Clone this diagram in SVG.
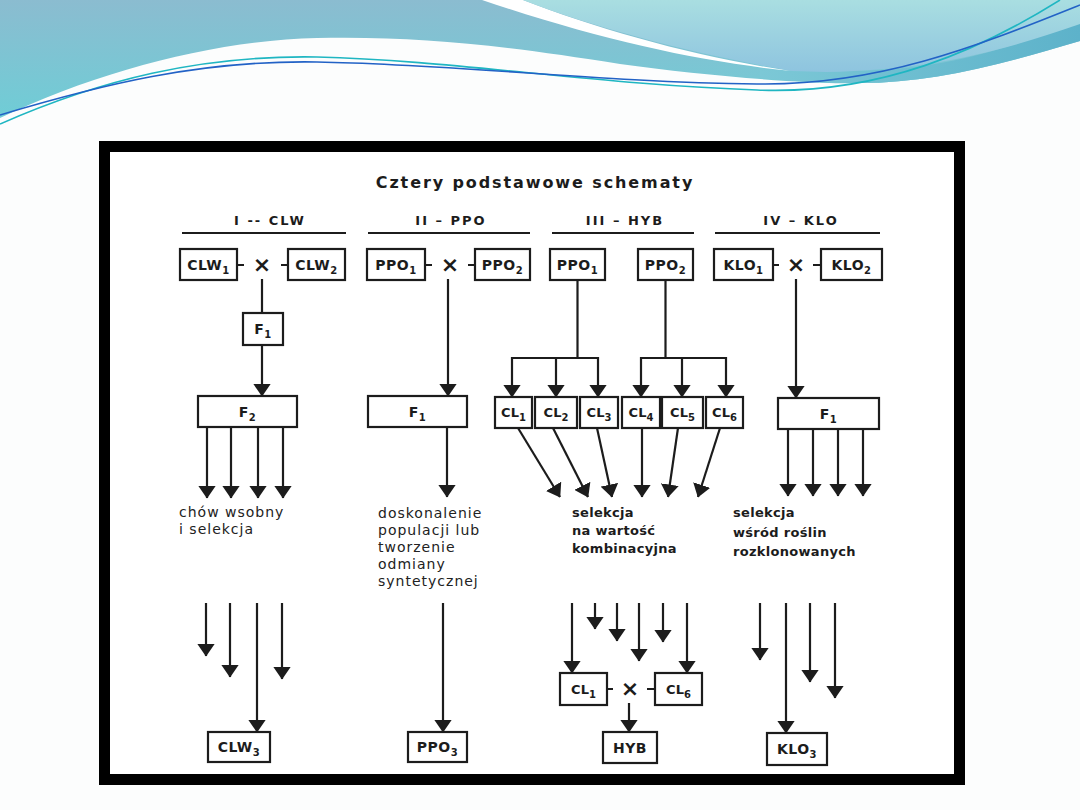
<svg xmlns="http://www.w3.org/2000/svg" width="1080" height="810" viewBox="0 0 1080 810">
<defs>
<linearGradient id="gBand" x1="0" y1="0" x2="0" y2="1">
<stop offset="0" stop-color="#8bbcd0"/>
<stop offset="1" stop-color="#6fcdd6"/>
</linearGradient>
<linearGradient id="gRight" x1="0" y1="0" x2="0" y2="1">
<stop offset="0" stop-color="#a9dee1"/>
<stop offset="1" stop-color="#8ec4df"/>
</linearGradient>
<linearGradient id="gBandR" x1="0" y1="0" x2="1" y2="0">
<stop offset="0" stop-color="#7cc8d6"/>
<stop offset="1" stop-color="#5db2ca"/>
</linearGradient>
<marker id="ah" viewBox="0 0 13 18" markerWidth="13" markerHeight="18" refX="12.5" refY="9" orient="auto" markerUnits="userSpaceOnUse">
<path d="M0,0 L13,9 L0,18 Z" fill="#1c1c1c"/>
</marker>
<style>
.box{fill:#fff;stroke:#1c1c1c;stroke-width:2.2}
.lbl{font-family:"DejaVu Sans",sans-serif;font-weight:bold;font-size:14px;fill:#1c1c1c;text-anchor:middle;letter-spacing:0.5px}
.cl{font-size:13px;letter-spacing:0}
.sub{font-size:10px}
.ln{stroke:#1c1c1c;stroke-width:2.2;fill:none}
.ar{marker-end:url(#ah)}
.x{font-family:"DejaVu Sans",sans-serif;font-weight:bold;font-size:22px;fill:#1c1c1c;text-anchor:middle}
.hd{font-family:"DejaVu Sans",sans-serif;font-weight:bold;font-size:13px;fill:#1c1c1c;text-anchor:middle;letter-spacing:2px}
.ttl{font-family:"DejaVu Sans",sans-serif;font-weight:bold;font-size:16px;fill:#1c1c1c;text-anchor:middle;letter-spacing:1.9px}
.dsc{font-family:"DejaVu Sans",sans-serif;font-size:14px;fill:#222;letter-spacing:1px}
.dscb{font-family:"DejaVu Sans",sans-serif;font-weight:bold;font-size:13px;fill:#1c1c1c;letter-spacing:0.3px}
</style>
</defs>

<!-- slide background -->
<rect x="0" y="0" width="1080" height="810" fill="#fcfdfd"/>
<g id="header-decoration">
<path d="M0,0 H1080 V41 C1000,65 930,83 860,83 C800,84 700,75 620,64 C500,45 420,36 317,38 C220,40 100,70 0,118 Z" fill="url(#gBand)"/>
<path d="M760,60 C850,80 950,75 1080,20 V41 C1000,65 930,83 860,83 C820,84 790,80 760,78 Z" fill="url(#gBandR)"/>
<path d="M482,0 L523,0 C600,30 700,58 792,71 C700,62 600,40 482,0 Z" fill="#ffffff"/>
<path d="M523,0 H1080 V24 C1000,52 930,70 826,72 L792,71 C700,55 600,30 523,0 Z" fill="url(#gRight)"/>
<path d="M0,124 C100,80 200,55 317,57 C450,60 600,85 757,90 C880,95 980,50 1060,0" fill="none" stroke="#1fb6c2" stroke-width="1.6"/>
<path d="M0,115 C100,85 200,60 317,62 C450,64 600,82 757,84 C880,86 980,45 1080,5" fill="none" stroke="#2262c6" stroke-width="1.6"/>
</g>

<!-- framed picture -->
<rect x="104.5" y="146.5" width="855" height="633" fill="#ffffff" stroke="#000" stroke-width="11"/>

<text class="ttl" x="535" y="188">Cztery podstawowe schematy</text>

<g id="headers">
<text class="hd" x="270" y="225">I -- CLW</text>
<line x1="182" y1="233" x2="346" y2="233" stroke="#1c1c1c" stroke-width="2"/>
<text class="hd" x="451" y="225">II – PPO</text>
<line x1="368" y1="233" x2="530" y2="233" stroke="#1c1c1c" stroke-width="2"/>
<text class="hd" x="625" y="225">III – HYB</text>
<line x1="552" y1="233" x2="694" y2="233" stroke="#1c1c1c" stroke-width="2"/>
<text class="hd" x="801" y="225">IV –  KLO</text>
<line x1="715" y1="233" x2="880" y2="233" stroke="#1c1c1c" stroke-width="2"/>
</g>

<!-- Column I: CLW -->
<g id="clw1"><rect class="box" x="180" y="249" width="57" height="31"/><text class="lbl" x="208.5" y="270">CLW<tspan class="sub" dy="4">1</tspan></text></g>
<g id="clw2"><rect class="box" x="288" y="249" width="57" height="31"/><text class="lbl" x="316.5" y="270">CLW<tspan class="sub" dy="4">2</tspan></text></g>
<g id="clw-cross"><text class="x" x="262" y="272">×</text></g>
<g id="clw-f1"><rect class="box" x="243" y="313" width="40" height="32"/><text class="lbl" x="263" y="334">F<tspan class="sub" dy="4">1</tspan></text></g>
<g id="clw-f2"><rect class="box" x="198" y="396" width="99" height="31"/><text class="lbl" x="247.5" y="417">F<tspan class="sub" dy="4">2</tspan></text></g>
<g id="clw-text"><text class="dsc" x="179" y="517">chów wsobny</text><text class="dsc" x="179" y="534">i selekcja</text></g>
<g id="clw3"><rect class="box" x="208" y="732" width="62" height="30"/><text class="lbl" x="239" y="752">CLW<tspan class="sub" dy="4">3</tspan></text></g>

<!-- Column II: PPO -->
<g id="ppo1"><rect class="box" x="367" y="249" width="58" height="31"/><text class="lbl" x="396" y="270">PPO<tspan class="sub" dy="4">1</tspan></text></g>
<g id="ppo2"><rect class="box" x="475" y="249" width="55" height="31"/><text class="lbl" x="502.5" y="270">PPO<tspan class="sub" dy="4">2</tspan></text></g>
<g id="ppo-cross"><text class="x" x="450" y="272">×</text></g>
<g id="ppo-f1"><rect class="box" x="368" y="396" width="99" height="31"/><text class="lbl" x="417.5" y="417">F<tspan class="sub" dy="4">1</tspan></text></g>
<g id="ppo-text"><text class="dsc" x="378" y="518">doskonalenie</text><text class="dsc" x="378" y="535">populacji lub</text><text class="dsc" x="378" y="552">tworzenie</text><text class="dsc" x="378" y="569">odmiany</text><text class="dsc" x="378" y="586">syntetycznej</text></g>
<g id="ppo3"><rect class="box" x="408" y="732" width="59" height="30"/><text class="lbl" x="437.5" y="752">PPO<tspan class="sub" dy="4">3</tspan></text></g>

<!-- Column III: HYB -->
<g id="hyb-ppo1"><rect class="box" x="550" y="249" width="55" height="31"/><text class="lbl" x="577.5" y="270">PPO<tspan class="sub" dy="4">1</tspan></text></g>
<g id="hyb-ppo2"><rect class="box" x="638" y="249" width="55" height="31"/><text class="lbl" x="665.5" y="270">PPO<tspan class="sub" dy="4">2</tspan></text></g>
<g id="cl1"><rect class="box" x="495" y="397" width="37" height="31"/><text class="lbl cl" x="513.5" y="417">CL<tspan class="sub" dy="4">1</tspan></text></g>
<g id="cl2"><rect class="box" x="535" y="397" width="42" height="31"/><text class="lbl cl" x="556" y="417">CL<tspan class="sub" dy="4">2</tspan></text></g>
<g id="cl3"><rect class="box" x="580" y="397" width="38" height="31"/><text class="lbl cl" x="599" y="417">CL<tspan class="sub" dy="4">3</tspan></text></g>
<g id="cl4"><rect class="box" x="622" y="397" width="38" height="31"/><text class="lbl cl" x="641" y="417">CL<tspan class="sub" dy="4">4</tspan></text></g>
<g id="cl5"><rect class="box" x="662" y="397" width="41" height="31"/><text class="lbl cl" x="682.5" y="417">CL<tspan class="sub" dy="4">5</tspan></text></g>
<g id="cl6"><rect class="box" x="706" y="397" width="37" height="31"/><text class="lbl cl" x="724.5" y="417">CL<tspan class="sub" dy="4">6</tspan></text></g>
<g id="hyb-text"><text class="dscb" x="572" y="517">selekcja</text><text class="dscb" x="572" y="535">na wartość</text><text class="dscb" x="572" y="553">kombinacyjna</text></g>
<g id="hyb-cl1"><rect class="box" x="560" y="673" width="47" height="32"/><text class="lbl cl" x="583.5" y="694">CL<tspan class="sub" dy="4">1</tspan></text></g>
<g id="hyb-cl6"><rect class="box" x="655" y="673" width="47" height="32"/><text class="lbl cl" x="678.5" y="694">CL<tspan class="sub" dy="4">6</tspan></text></g>
<g id="hyb-cross"><text class="x" x="630" y="696">×</text></g>
<g id="hyb"><rect class="box" x="603" y="732" width="54" height="31"/><text class="lbl" x="630" y="753">HYB</text></g>

<!-- Column IV: KLO -->
<g id="klo1"><rect class="box" x="714" y="249" width="59" height="31"/><text class="lbl" x="743.5" y="270">KLO<tspan class="sub" dy="4">1</tspan></text></g>
<g id="klo2"><rect class="box" x="821" y="249" width="61" height="31"/><text class="lbl" x="851.5" y="270">KLO<tspan class="sub" dy="4">2</tspan></text></g>
<g id="klo-cross"><text class="x" x="796" y="272">×</text></g>
<g id="klo-f1"><rect class="box" x="778" y="398" width="101" height="31"/><text class="lbl" x="828.5" y="419">F<tspan class="sub" dy="4">1</tspan></text></g>
<g id="klo-text"><text class="dscb" x="733" y="517">selekcja</text><text class="dscb" x="733" y="537">wśród roślin</text><text class="dscb" x="733" y="556">rozklonowanych</text></g>
<g id="klo3"><rect class="box" x="767" y="733" width="60" height="32"/><text class="lbl" x="797" y="754">KLO<tspan class="sub" dy="4">3</tspan></text></g>

<g id="connectors">
<!-- cross dashes -->
<path class="ln" d="M237,265 H244 M281,265 H288 M425,265 H432 M468,265 H475 M773,265 H779 M813,265 H821 M607,689 H613 M647,689 H655"/>
<!-- I CLW -->
<line class="ln" x1="262" y1="279" x2="262" y2="313"/>
<line class="ln ar" x1="262" y1="345" x2="262" y2="396"/>
<line class="ln ar" x1="207" y1="427" x2="207" y2="498"/>
<line class="ln ar" x1="231" y1="427" x2="231" y2="498"/>
<line class="ln ar" x1="258" y1="427" x2="258" y2="498"/>
<line class="ln ar" x1="283" y1="427" x2="283" y2="498"/>
<line class="ln ar" x1="206" y1="603" x2="206" y2="656"/>
<line class="ln ar" x1="230" y1="603" x2="230" y2="677"/>
<line class="ln ar" x1="257" y1="603" x2="257" y2="732"/>
<line class="ln ar" x1="282" y1="603" x2="282" y2="679"/>
<!-- II PPO -->
<line class="ln ar" x1="448" y1="279" x2="448" y2="396"/>
<line class="ln ar" x1="447" y1="427" x2="447" y2="497"/>
<line class="ln ar" x1="443" y1="603" x2="443" y2="732"/>
<!-- III HYB -->
<path class="ln" d="M577.5,280 V358 M512,358 H598 M665.5,280 V358 M641,358 H726"/>
<line class="ln ar" x1="512" y1="357" x2="512" y2="397"/>
<line class="ln ar" x1="556" y1="358" x2="556" y2="397"/>
<line class="ln ar" x1="598" y1="357" x2="598" y2="397"/>
<line class="ln ar" x1="641" y1="357" x2="641" y2="397"/>
<line class="ln ar" x1="682" y1="358" x2="682" y2="397"/>
<line class="ln ar" x1="726" y1="357" x2="726" y2="397"/>
<line class="ln ar" x1="518" y1="428" x2="560" y2="497"/>
<line class="ln ar" x1="553" y1="428" x2="588" y2="497"/>
<line class="ln ar" x1="597" y1="428" x2="612" y2="497"/>
<line class="ln ar" x1="642" y1="428" x2="642" y2="497"/>
<line class="ln ar" x1="678" y1="428" x2="668" y2="497"/>
<line class="ln ar" x1="720" y1="428" x2="698" y2="497"/>
<line class="ln ar" x1="572" y1="603" x2="572" y2="673"/>
<line class="ln ar" x1="595" y1="603" x2="595" y2="629"/>
<line class="ln ar" x1="617" y1="603" x2="617" y2="641"/>
<line class="ln ar" x1="639" y1="603" x2="639" y2="661"/>
<line class="ln ar" x1="663" y1="603" x2="663" y2="642"/>
<line class="ln ar" x1="687" y1="603" x2="687" y2="673"/>
<line class="ln ar" x1="629" y1="703" x2="629" y2="732"/>
<!-- IV KLO -->
<line class="ln ar" x1="796" y1="279" x2="796" y2="398"/>
<line class="ln ar" x1="788" y1="429" x2="788" y2="496"/>
<line class="ln ar" x1="813" y1="429" x2="813" y2="496"/>
<line class="ln ar" x1="838" y1="429" x2="838" y2="496"/>
<line class="ln ar" x1="863" y1="429" x2="863" y2="496"/>
<line class="ln ar" x1="760" y1="603" x2="760" y2="660"/>
<line class="ln ar" x1="786" y1="603" x2="786" y2="733"/>
<line class="ln ar" x1="810" y1="603" x2="810" y2="682"/>
<line class="ln ar" x1="835" y1="603" x2="835" y2="698"/>
</g>
</svg>
